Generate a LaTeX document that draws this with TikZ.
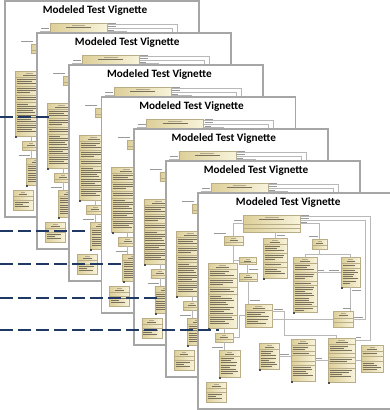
\documentclass[tikz,border=0pt]{standalone}
\usepackage{fontspec}
\newfontfamily\vignettefont{Carlito}
\usetikzlibrary{calc}

\definecolor{pageedge}{HTML}{A6A6A6}
\definecolor{navy}{HTML}{1F3864}
\definecolor{boxdark}{HTML}{DDCF98}
\definecolor{boxlight}{HTML}{F8F3DB}
\definecolor{boxedge}{HTML}{B8AD86}
\definecolor{wire}{HTML}{B8B8B8}
\definecolor{ink}{HTML}{77715E}

\tikzset{
  pageframe/.style={draw=pageedge, line width=1.8pt, fill=white, inner sep=0pt,
    anchor=north west, minimum width=194pt, minimum height=216pt},
  pagetitle/.style={font=\vignettefont\bfseries\fontsize{11.2}{13}\selectfont,
    inner sep=0pt, anchor=center},
  umlbox/.style={draw=boxedge, line width=0.4pt, left color=boxdark, right color=boxlight,
    inner sep=0pt, outer sep=0pt, anchor=north west},
  compline/.style={draw=boxedge, line width=0.3pt},
  txtline/.style={draw=ink, line width=0.45pt},
  headline/.style={draw=ink, line width=0.5pt},
  lblline/.style={draw=black!40, line width=0.4pt},
  conn/.style={draw=wire, line width=0.5pt},
  dashline/.style={draw=navy, line width=2pt, dash pattern=on 13pt off 5pt},
}

% class box: name, x, y, width, height, compartments (top/lines)
\newcommand\umlcls[6]{%
  \node[umlbox, minimum width=#4pt, minimum height=#5pt] (#1) at (#2,#3) {};
  \begin{scope}[shift={(#2,#3)}]
    \draw[headline, draw opacity=0.5] ({#4/2-#4*0.12},2) -- ({#4/2+#4*0.12},2);
    \draw[headline] ({#4/2-#4*0.22},4.2) -- ({#4/2+#4*0.22},4.2);
    \foreach \s/\n in {#6}{%
      \draw[compline] (0,\s) -- (#4,\s);
      \ifnum\n>0
        \foreach \k in {1,...,\n}{%
          \pgfmathsetmacro\txtlen{(#4-3)*(0.45+0.5*abs(sin(\s*97+\k*53)))}
          \draw[txtline] (1.5,{\s+2.2*\k-0.4}) -- ++(\txtlen,0);
        }
      \fi
    }
  \end{scope}}

% one sheet with its class diagram
\newcommand\vignettepage[3]{%
\begin{scope}[shift={(#2,#3)}]
  \node[pageframe] (#1pg) at (0,0) {};
  \node[pagetitle] (#1ttl) at (91,10.5) {Modeled Test Vignette};
  \umlcls{#1b1}{46}{23}{57}{17}{9/0,13/0}
  \umlcls{#1b2}{27}{44}{19}{9}{6.5/0}
  \umlcls{#1b3}{66}{46}{24}{40}{6.5/3,15/3,24/1,29/3}
  \umlcls{#1b4}{115}{47}{15}{10}{6.5/0}
  \umlcls{#1b5}{42}{65}{17}{7}{5.5/0}
  \umlcls{#1b6}{42}{81}{18}{8}{6/0}
  \umlcls{#1b7}{11}{71}{29}{65}{6.5/3,15/3,24/2,31/9,52/4}
  \umlcls{#1b8}{96}{65}{24}{55}{6.5/3,15/3,24/1,28/9,49/2}
  \umlcls{#1b9}{144}{65}{19}{30}{6.5/1,11/7}
  \umlcls{#1b10}{48}{112}{27}{23}{6.5/6}
  \umlcls{#1b11}{136}{119}{20}{16}{7/0,11/0}
  \umlcls{#1b12}{18}{141}{18}{9}{6.5/0}
  \umlcls{#1b13}{22}{158}{21}{27}{6.5/8}
  \umlcls{#1b14}{62}{151}{20}{26}{6.5/8}
  \umlcls{#1b15}{94}{147}{24}{42}{6.5/2,12/1,16.5/0,22/0,26/5}
  \umlcls{#1b16}{131}{146}{27}{44}{6.5/3,15/0,19/2,25/0,30/4}
  \umlcls{#1b17}{164}{153}{22}{27}{6.5/1,11/0,16/4}
  \umlcls{#1b18}{9}{190}{20}{20}{6.5/0,10/3}
  % associations
  \draw[conn] (#1b1.west) -| (#1b2.north);
  \draw[conn] (#1b2.south) -- (#1b2.south |- #1b7.north);
  \draw[conn] (#1b2.south) |- (#1b5.west);
  \draw[conn] (#1b5.south) -- (#1b5.south |- #1b6.north);
  \draw[conn] (#1b6.south) -- (#1b6.south |- #1b10.north);
  \draw[conn] (#1b3.north) -- (#1b3.north |- #1b1.south);
  \draw[conn] (#1b1.east) -| (#1b4.north);
  \draw[conn] ([yshift=-1.5pt]#1b1.north east) -- ++(70,0) |- ([yshift=-2pt]#1b16.north east);
  \draw[conn] ([yshift=-5pt]#1b1.north east) -- ++(65,0) |- (#1b11.east);
  \draw[conn] (#1b4.south) -- ++(0,5) coordinate (#1j) -| (#1b8.north);
  \draw[conn] (#1j) -| (#1b9.north);
  \draw[conn] (#1b9.west) -- (#1b9.west -| #1b8.east);
  \draw[conn] (#1b9.south) -- (#1b9.south |- #1b11.north);
  \draw[conn] (#1b11.west) -- (#1b11.west -| #1b10.east);
  \draw[conn] (#1b12.east) -- ++(6,0) |- (#1b10.west);
  \draw[conn] (#1b12.north) -- (#1b12.north |- #1b7.south);
  \draw[conn] (#1b12.south) -- (#1b12.south |- #1b13.north);
  \draw[conn] (#1b14.east) -- (#1b14.east -| #1b15.west);
  \draw[conn] (#1b15.east) -- (#1b15.east -| #1b16.west);
  \draw[conn] (#1b16.east) -- (#1b16.east -| #1b17.west);
  \draw[conn] ([yshift=4pt]#1b10.east) -- ++(12,0) -- ++(0,23.5) -| ([xshift=-5pt]#1b16.north);
  % role names
  \foreach \lx/\ly/\ll in {37/28.5/8, 17/41.5/12, 52/77.5/9, 53/108/10, 79.5/43.5/8,
      112/44.5/9, 104/23/8, 104/26.5/8, 104/30/6, 121/78.5/6, 132/78.5/10, 155/98/9,
      146/116.5/8, 157/125/9, 159/145.5/5, 15/155.5/11, 83/162/9, 77/117.5/9, 119/166/6}
    \draw[lblline] (\lx,\ly) -- ++(\ll,0);
  % diagram markers
  \foreach \b in {b3,b7,b8,b9,b13,b14,b15,b16}
    \fill[black!70] (#1\b.south west) rectangle ++(2,2);
\end{scope}}

\begin{document}
\begin{tikzpicture}[x=1pt,y=-1pt]
  \useasboundingbox[fill=white] (0,0) rectangle (390,410);
  \vignettepage{p1}{4}{0}
  \vignettepage{p2}{36.2}{32}
  \vignettepage{p3}{68.4}{64}
  \vignettepage{p4}{100.6}{96}
  \vignettepage{p5}{132.8}{128}
  \vignettepage{p6}{165}{160}
  \vignettepage{p7}{197.2}{192}
  % pointer lines
  \coordinate (d1s) at (0,117);   \coordinate (d1e) at (53,117);
  \coordinate (d2s) at (0,231);   \coordinate (d2e) at (88,231);
  \coordinate (d3s) at (0,264);   \coordinate (d3e) at (122,264);
  \coordinate (d4s) at (0,298);   \coordinate (d4e) at (157,298);
  \coordinate (d5s) at (0,330);   \coordinate (d5e) at (219,330);
  \foreach \d in {1,...,5}
    \draw[dashline] (d\d s) -- (d\d e);
\end{tikzpicture}
\end{document}
